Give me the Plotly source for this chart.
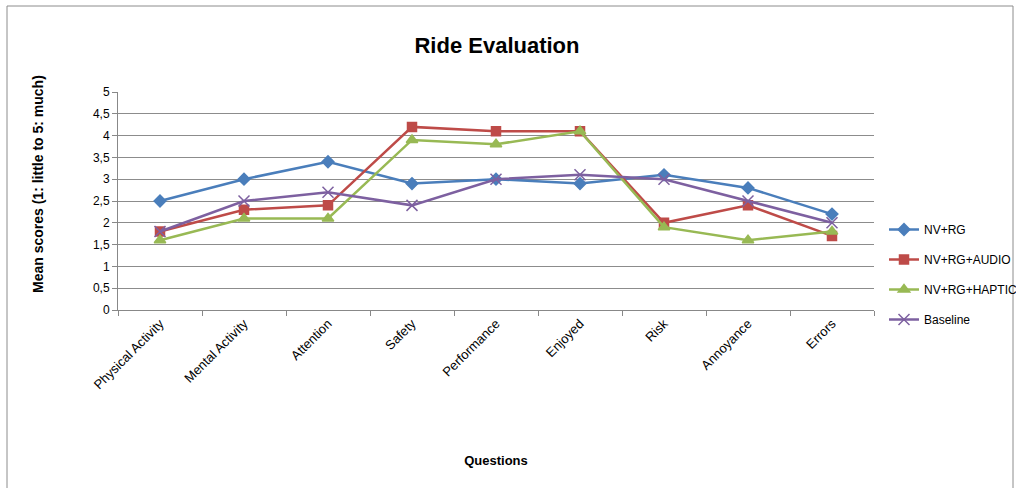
import plotly.graph_objects as go

categories = ["Physical Activity", "Mental Activity", "Attention", "Safety", "Performance",
              "Enjoyed", "Risk", "Annoyance", "Errors"]
nv_rg = [2.5, 3.0, 3.4, 2.9, 3.0, 2.9, 3.1, 2.8, 2.2]
nv_rg_audio = [1.8, 2.3, 2.4, 4.2, 4.1, 4.1, 2.0, 2.4, 1.7]
nv_rg_haptic = [1.6, 2.1, 2.1, 3.9, 3.8, 4.1, 1.9, 1.6, 1.8]
baseline = [1.8, 2.5, 2.7, 2.4, 3.0, 3.1, 3.0, 2.5, 2.0]
y_ticks = [0, 0.5, 1, 1.5, 2, 2.5, 3, 3.5, 4, 4.5, 5]
y_ticktext = ["0", "0,5", "1", "1,5", "2", "2,5", "3", "3,5", "4", "4,5", "5"]

FONT = "Liberation Sans, Arial"

series = [
    ("NV+RG", nv_rg, "#4A7EBB", "diamond", 9),
    ("NV+RG+AUDIO", nv_rg_audio, "#BE4B48", "square", 9),
    ("NV+RG+HAPTIC", nv_rg_haptic, "#98B954", "triangle-up", 10),
    ("Baseline", baseline, "#7D60A0", "x-thin-open", 11),
]

fig = go.Figure()
for name, vals, color, sym, size in series:
    fig.add_trace(go.Scatter(
        x=categories, y=vals, name=name, mode="lines+markers", legendgroup=name,
        line=dict(color=color, width=2.5),
        marker=dict(symbol=sym, size=size, color=color,
                    line=dict(color=color, width=1.5)),
    ))

L, R, T, B = 118, 142, 92, 178
W, H = 1016, 488
pw, ph = W - L - R, H - T - B

fig.update_layout(
    width=W, height=H,
    margin=dict(l=L, r=R, t=T, b=B, autoexpand=False),
    paper_bgcolor="white", plot_bgcolor="white",
    font=dict(family=FONT, size=12, color="black"),
    title=dict(text="<b>Ride Evaluation</b>", x=(497) / W, xanchor="center",
               y=1 - 45 / H, yanchor="middle",
               font=dict(size=22, family=FONT)),
    legend=dict(xref="container", yref="container",
                x=884 / W, xanchor="left", y=1 - 215 / H, yanchor="top",
                font=dict(size=12, family=FONT), tracegroupgap=11,
                traceorder="grouped", bgcolor="rgba(0,0,0,0)"),
    showlegend=True,
)
fig.update_xaxes(
    type="category", tickangle=-45, showgrid=False,
    showline=True, linecolor="#888888", linewidth=1,
    ticks="outside", tickson="boundaries", ticklen=5, tickcolor="#888888",
    tickfont=dict(size=13, family=FONT),
    title=dict(text="<b>Questions</b>", font=dict(size=13, family=FONT), standoff=64),
    range=[-0.5, 8.5],
)
fig.update_yaxes(
    range=[0, 5], tickvals=y_ticks, ticktext=y_ticktext,
    showgrid=True, gridcolor="#8c8c8c", gridwidth=1,
    showline=True, linecolor="#888888", linewidth=1,
    ticks="outside", ticklen=5, tickcolor="#888888",
    tickfont=dict(size=12, family=FONT),
    zeroline=False,
)

fig.add_annotation(text="<b>Mean scores (1: little to 5: much)</b>",
                   xref="paper", yref="paper",
                   x=(38 - L) / pw, y=(H - B - 184) / ph,
                   xanchor="center", yanchor="middle", textangle=-90,
                   showarrow=False, font=dict(size=14, family=FONT, color="black"))

fig.add_shape(type="rect", xref="paper", yref="paper",
              x0=(7 - L) / pw, x1=(1013 - L) / pw,
              y0=(H - B - 500) / ph, y1=(H - B - 6) / ph,
              line=dict(color="#8c8c8c", width=1), fillcolor="rgba(0,0,0,0)", layer="below")

fig.write_html("out.html")
